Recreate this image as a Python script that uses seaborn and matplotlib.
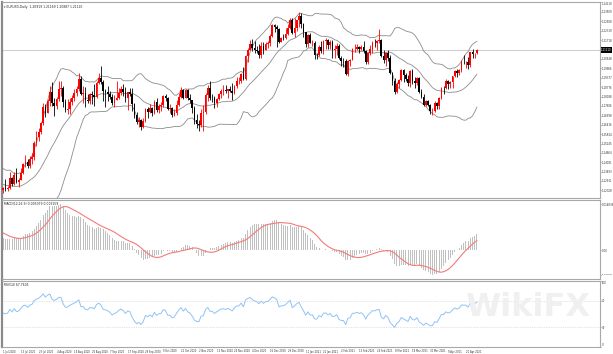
import numpy as np
import pandas as pd
import matplotlib
matplotlib.use('Agg')
import matplotlib.pyplot as plt
import matplotlib.transforms as mtransforms
import seaborn as sns

sns.set_style('white')
plt.rcParams['font.family'] = ['DejaVu Sans']

# EURUSD Daily, 1 Jul 2020 - 28 Apr 2021
# 5~6월 종가: 지표(볼린저, MACD, RSI) 계산용 워밍업, 차트에는 안 그림
warmup_close = [1.0980, 1.0908, 1.0840, 1.0795, 1.0830, 1.0839, 1.0806, 1.0850, 1.0817, 1.0803,
                1.0820, 1.0916, 1.0922, 1.0973, 1.0945, 1.0900, 1.0902, 1.0978, 1.1005, 1.1076,
                1.1100,
                1.1135, 1.1170, 1.1235, 1.1337, 1.1290, 1.1295, 1.1342, 1.1375, 1.1300, 1.1256,
                1.1330, 1.1262, 1.1245, 1.1205, 1.1177, 1.1260, 1.1308, 1.1250, 1.1219, 1.1220,
                1.1240, 1.1233]

opens = [
    # Jul
    1.1233, 1.1250, 1.1240, 1.1245, 1.1310, 1.1274, 1.1330, 1.1287, 1.1300, 1.1343, 1.1399, 1.1410,
    1.1383, 1.1427, 1.1443, 1.1529, 1.1568, 1.1596, 1.1656, 1.1753, 1.1717, 1.1791, 1.1846,
    # Aug
    1.1778, 1.1763, 1.1802, 1.1867, 1.1875, 1.1787, 1.1735, 1.1741, 1.1785, 1.1812, 1.1842, 1.1869,
    1.1930, 1.1835, 1.1840, 1.1795, 1.1792, 1.1834, 1.1832, 1.1819, 1.1903,
    # Sep
    1.1936, 1.1912, 1.1855, 1.1850, 1.1837, 1.1817, 1.1780, 1.1800, 1.1812, 1.1845, 1.1864, 1.1846,
    1.1813, 1.1847, 1.1838, 1.1770, 1.1704, 1.1658, 1.1671, 1.1631, 1.1664, 1.1742,
    # Oct
    1.1720, 1.1747, 1.1716, 1.1783, 1.1734, 1.1760, 1.1765, 1.1825, 1.1813, 1.1744, 1.1746, 1.1706,
    1.1718, 1.1768, 1.1820, 1.1860, 1.1812, 1.1860, 1.1812, 1.1795, 1.1746, 1.1673,
    # Nov
    1.1646, 1.1641, 1.1718, 1.1722, 1.1830, 1.1874, 1.1813, 1.1812, 1.1778, 1.1807, 1.1834, 1.1855,
    1.1861, 1.1853, 1.1869, 1.1856, 1.1841, 1.1888, 1.1914, 1.1917, 1.1963,
    # Dec
    1.1927, 1.2072, 1.2113, 1.2146, 1.2122, 1.2108, 1.2103, 1.2080, 1.2135, 1.2113, 1.2147, 1.2154,
    1.2197, 1.2266, 1.2256, 1.2242, 1.2164, 1.2187, 1.2186, 1.2213, 1.2249, 1.2297,
    # Jan
    1.2216, 1.2250, 1.2297, 1.2326, 1.2271, 1.2221, 1.2151, 1.2208, 1.2153, 1.2156, 1.2079, 1.2078,
    1.2130, 1.2105, 1.2165, 1.2171, 1.2140, 1.2161, 1.2112, 1.2118,
    # Feb
    1.2138, 1.2060, 1.2043, 1.2040, 1.1963, 1.2045, 1.2050, 1.2118, 1.2119, 1.2133, 1.2119, 1.2127,
    1.2104, 1.2039, 1.2092, 1.2119, 1.2155, 1.2152, 1.2167, 1.2175,
    # Mar
    1.2075, 1.2047, 1.2091, 1.2063, 1.1965, 1.1915, 1.1849, 1.1901, 1.1926, 1.1985, 1.1952, 1.1930,
    1.1903, 1.1978, 1.1915, 1.1904, 1.1938, 1.1851, 1.1814, 1.1765, 1.1794, 1.1765, 1.1728,
    # Apr
    1.1730, 1.1779, 1.1763, 1.1812, 1.1874, 1.1871, 1.1915, 1.1898, 1.1910, 1.1946, 1.1980, 1.1966,
    1.1983, 1.2036, 1.2034, 1.2035, 1.2015, 1.2096, 1.2083, 1.20919]

highs = [
    1.1255, 1.1303, 1.1262, 1.1346, 1.1318, 1.1345, 1.1371, 1.1310, 1.1375, 1.1404, 1.1452, 1.1426,
    1.1450, 1.1468, 1.1540, 1.1601, 1.1622, 1.1660, 1.1781, 1.1776, 1.1805, 1.1887, 1.1909,
    1.1810, 1.1814, 1.1916, 1.1916, 1.1883, 1.1806, 1.1807, 1.1808, 1.1830, 1.1865, 1.1883, 1.1966,
    1.1951, 1.1885, 1.1882, 1.1838, 1.1845, 1.1855, 1.1900, 1.1917, 1.1965,
    1.2011, 1.1922, 1.1869, 1.1883, 1.1853, 1.1836, 1.1831, 1.1917, 1.1873, 1.1888, 1.1900, 1.1882,
    1.1851, 1.1872, 1.1873, 1.1781, 1.1720, 1.1689, 1.1679, 1.1684, 1.1746, 1.1755,
    1.1771, 1.1755, 1.1795, 1.1808, 1.1772, 1.1788, 1.1831, 1.1834, 1.1820, 1.1772, 1.1755, 1.1739,
    1.1795, 1.1840, 1.1880, 1.1865, 1.1870, 1.1868, 1.1834, 1.1798, 1.1761, 1.1708,
    1.1671, 1.1743, 1.1769, 1.1839, 1.1891, 1.1920, 1.1837, 1.1826, 1.1813, 1.1839, 1.1868, 1.1890,
    1.1893, 1.1867, 1.1883, 1.1906, 1.1893, 1.1941, 1.1940, 1.1965, 1.2004,
    1.2077, 1.2124, 1.2176, 1.2177, 1.2167, 1.2136, 1.2147, 1.2163, 1.2162, 1.2163, 1.2167, 1.2212,
    1.2273, 1.2272, 1.2268, 1.2251, 1.2195, 1.2211, 1.2250, 1.2275, 1.2310, 1.2310,
    1.2310, 1.2300, 1.2349, 1.2340, 1.2281, 1.2222, 1.2210, 1.2218, 1.2175, 1.2165, 1.2090, 1.2145,
    1.2170, 1.2172, 1.2188, 1.2180, 1.2176, 1.2172, 1.2140, 1.2156,
    1.2146, 1.2076, 1.2061, 1.2052, 1.2050, 1.2056, 1.2125, 1.2147, 1.2150, 1.2139, 1.2144, 1.2169,
    1.2109, 1.2097, 1.2145, 1.2169, 1.2181, 1.2174, 1.2243, 1.2183,
    1.2114, 1.2099, 1.2112, 1.2077, 1.1975, 1.1935, 1.1913, 1.1929, 1.1990, 1.1990, 1.1965, 1.1952,
    1.1989, 1.1990, 1.1943, 1.1944, 1.1942, 1.1866, 1.1834, 1.1799, 1.1799, 1.1774, 1.1748,
    1.1791, 1.1786, 1.1820, 1.1880, 1.1887, 1.1927, 1.1925, 1.1917, 1.1949, 1.1989, 1.1992, 1.1994,
    1.2048, 1.2079, 1.2044, 1.2070, 1.2100, 1.2117, 1.2091, 1.21169]

lows = [
    1.1218, 1.1228, 1.1229, 1.1242, 1.1260, 1.1269, 1.1276, 1.1254, 1.1300, 1.1336, 1.1380, 1.1372,
    1.1375, 1.1396, 1.1420, 1.1508, 1.1542, 1.1583, 1.1639, 1.1690, 1.1715, 1.1761, 1.1761,
    1.1696, 1.1740, 1.1791, 1.1824, 1.1753, 1.1722, 1.1711, 1.1712, 1.1764, 1.1789, 1.1822, 1.1856,
    1.1828, 1.1778, 1.1753, 1.1780, 1.1776, 1.1772, 1.1762, 1.1811, 1.1898,
    1.1900, 1.1789, 1.1754, 1.1790, 1.1806, 1.1765, 1.1752, 1.1800, 1.1804, 1.1830, 1.1824, 1.1788,
    1.1737, 1.1823, 1.1730, 1.1685, 1.1646, 1.1627, 1.1612, 1.1625, 1.1658, 1.1685,
    1.1714, 1.1696, 1.1708, 1.1725, 1.1718, 1.1732, 1.1757, 1.1790, 1.1735, 1.1719, 1.1689, 1.1700,
    1.1702, 1.1760, 1.1811, 1.1804, 1.1808, 1.1797, 1.1780, 1.1717, 1.1650, 1.1622,
    1.1602, 1.1630, 1.1603, 1.1713, 1.1793, 1.1801, 1.1785, 1.1745, 1.1757, 1.1796, 1.1812, 1.1830,
    1.1844, 1.1813, 1.1848, 1.1801, 1.1833, 1.1876, 1.1897, 1.1904, 1.1923,
    1.1924, 1.2039, 1.2110, 1.2107, 1.2091, 1.2091, 1.2058, 1.2060, 1.2085, 1.2109, 1.2122, 1.2138,
    1.2190, 1.2224, 1.2130, 1.2153, 1.2163, 1.2173, 1.2178, 1.2204, 1.2240, 1.2210,
    1.2190, 1.2230, 1.2255, 1.2248, 1.2192, 1.2133, 1.2132, 1.2152, 1.2135, 1.2055, 1.2054, 1.2075,
    1.2090, 1.2085, 1.2115, 1.2120, 1.2115, 1.2058, 1.2060, 1.2080,
    1.2055, 1.2011, 1.2003, 1.1952, 1.1951, 1.2013, 1.2046, 1.2099, 1.2110, 1.2090, 1.2110, 1.2091,
    1.2023, 1.2022, 1.2082, 1.2092, 1.2128, 1.2110, 1.2156, 1.2065,
    1.2027, 1.2011, 1.2040, 1.1960, 1.1893, 1.1836, 1.1845, 1.1874, 1.1918, 1.1910, 1.1915, 1.1887,
    1.1882, 1.1897, 1.1874, 1.1894, 1.1843, 1.1809, 1.1760, 1.1762, 1.1761, 1.1712, 1.1704,
    1.1722, 1.1740, 1.1741, 1.1807, 1.1838, 1.1865, 1.1870, 1.1872, 1.1876, 1.1944, 1.1945, 1.1953,
    1.1974, 1.2023, 1.2001, 1.1995, 1.2003, 1.2063, 1.2059, 1.20887]

closes = [
    1.1250, 1.1240, 1.1245, 1.1310, 1.1274, 1.1330, 1.1287, 1.1300, 1.1343, 1.1399, 1.1410, 1.1383,
    1.1427, 1.1443, 1.1529, 1.1568, 1.1596, 1.1656, 1.1753, 1.1717, 1.1791, 1.1846, 1.1778,
    1.1763, 1.1802, 1.1867, 1.1875, 1.1787, 1.1735, 1.1741, 1.1785, 1.1812, 1.1842, 1.1869, 1.1930,
    1.1835, 1.1840, 1.1795, 1.1792, 1.1834, 1.1832, 1.1819, 1.1903, 1.1936,
    1.1912, 1.1855, 1.1850, 1.1837, 1.1817, 1.1780, 1.1800, 1.1812, 1.1845, 1.1864, 1.1846, 1.1813,
    1.1847, 1.1838, 1.1770, 1.1704, 1.1658, 1.1671, 1.1631, 1.1664, 1.1742, 1.1720,
    1.1747, 1.1716, 1.1783, 1.1734, 1.1760, 1.1765, 1.1825, 1.1813, 1.1744, 1.1746, 1.1706, 1.1718,
    1.1768, 1.1820, 1.1860, 1.1812, 1.1860, 1.1812, 1.1795, 1.1746, 1.1673, 1.1646,
    1.1641, 1.1718, 1.1722, 1.1830, 1.1874, 1.1813, 1.1812, 1.1778, 1.1807, 1.1834, 1.1855, 1.1861,
    1.1853, 1.1869, 1.1856, 1.1841, 1.1888, 1.1914, 1.1917, 1.1963, 1.1927,
    1.2072, 1.2113, 1.2146, 1.2122, 1.2108, 1.2103, 1.2080, 1.2135, 1.2113, 1.2147, 1.2154, 1.2197,
    1.2266, 1.2256, 1.2242, 1.2164, 1.2187, 1.2186, 1.2213, 1.2249, 1.2297, 1.2216,
    1.2250, 1.2297, 1.2326, 1.2271, 1.2221, 1.2151, 1.2208, 1.2153, 1.2156, 1.2079, 1.2078, 1.2130,
    1.2105, 1.2165, 1.2171, 1.2140, 1.2161, 1.2112, 1.2118, 1.2138,
    1.2060, 1.2043, 1.2040, 1.1963, 1.2045, 1.2050, 1.2118, 1.2119, 1.2133, 1.2119, 1.2127, 1.2104,
    1.2039, 1.2092, 1.2119, 1.2155, 1.2152, 1.2167, 1.2175, 1.2075,
    1.2047, 1.2091, 1.2063, 1.1965, 1.1915, 1.1849, 1.1901, 1.1926, 1.1985, 1.1952, 1.1930, 1.1903,
    1.1978, 1.1915, 1.1904, 1.1938, 1.1851, 1.1814, 1.1765, 1.1794, 1.1765, 1.1728, 1.1730,
    1.1779, 1.1763, 1.1812, 1.1874, 1.1871, 1.1915, 1.1898, 1.1910, 1.1946, 1.1980, 1.1966, 1.1983,
    1.2036, 1.2034, 1.2035, 1.2015, 1.2096, 1.2083, 1.2089, 1.21110]

# 가격축 눈금 (오른쪽)
price_ticks = [1.24110, 1.23509, 1.22908, 1.22319, 1.21718, 1.20548, 1.19966, 1.19377, 1.18776,
               1.18188, 1.17606, 1.16998, 1.16416, 1.15834, 1.15245, 1.14664, 1.14081, 1.13493,
               1.12911, 1.12328]
price_range = (1.11846, 1.24116)
rsi_levels = [70, 30]
rsi_ticks = [100, 70, 30, 0]

# 거래일 (크리스마스, 신정 제외)
dates = pd.bdate_range('2020-07-01', '2021-04-28')
dates = dates[~dates.isin(pd.to_datetime(['2020-12-25', '2021-01-01']))]

df = pd.DataFrame({'open': opens, 'high': highs, 'low': lows, 'close': closes}, index=dates)
n = len(df)
x = np.arange(n)
nw = len(warmup_close)

# 지표 계산
close_all = pd.Series(warmup_close + closes)
sma = close_all.rolling(20).mean()
sd = close_all.rolling(20).std(ddof=0)
bb_mid = sma.values[nw:]
bb_up = (sma + 2 * sd).values[nw:]
bb_lo = (sma - 2 * sd).values[nw:]

ema12 = close_all.ewm(span=12, adjust=False).mean()
ema26 = close_all.ewm(span=26, adjust=False).mean()
macd_all = ema12 - ema26
signal_all = macd_all.rolling(9).mean()
macd = macd_all.values[nw:]
signal = signal_all.values[nw:]

delta = close_all.diff()
gain = delta.clip(lower=0).ewm(alpha=1 / 14, adjust=False).mean()
loss = (-delta.clip(upper=0)).ewm(alpha=1 / 14, adjust=False).mean()
rsi = (100 - 100 / (1 + gain / loss)).values[nw:]

# 그림
fig = plt.figure(figsize=(6.13, 3.54), dpi=100)
W, H = 613, 354
left, width = 2 / W, 598 / W
ax = fig.add_axes([left, (H - 198) / H, width, 196 / H])
ax_macd = fig.add_axes([left, (H - 279) / H, width, 79 / H])
ax_rsi = fig.add_axes([left, (H - 347) / H, width, 66 / H])

xlim = (-0.5, 268.3)
tick_kw = dict(labelsize=1.9, length=1.0, width=0.4, pad=0.4, colors='#333333')

# 캔들
o = df['open'].values
c = df['close'].values
up = c >= o
col = np.where(up, '#ff0000', '#000000')
ax.vlines(x, df['low'].values, df['high'].values, colors=col, linewidth=0.6, zorder=3)
body = np.maximum(np.abs(c - o), 0.00008)
ax.bar(x, body, bottom=np.minimum(o, c), width=0.75, color=col, linewidth=0, zorder=4)

# 볼린저 밴드
for band in (bb_up, bb_mid, bb_lo):
    sns.lineplot(x=x, y=band, ax=ax, color='#8c8c8c', linewidth=0.6, legend=False)

last = closes[-1]
ax.axhline(last, color='#c4c4c4', linewidth=0.6, zorder=1)
ax.set_xlim(xlim)
ax.set_ylim(price_range)
ax.yaxis.tick_right()
ax.set_yticks(price_ticks)
ax.set_yticklabels([f'{v:.5f}' for v in price_ticks])
ax.tick_params(axis='y', **tick_kw)
ax.get_yticklabels()[0].set_va('top')
ax.set_xticks([])
trans = mtransforms.blended_transform_factory(ax.transAxes, ax.transData)
ax.text(1.002, last, f'{last:.5f}', transform=trans, fontsize=1.9, color='white',
        va='center', ha='left', bbox=dict(boxstyle='square,pad=0.2', fc='black', ec='none'))
ax.text(0.004, 0.985, '▾ EURUSD,Daily  1.20919 1.21169 1.20887 1.21110',
        transform=ax.transAxes, fontsize=2.2, va='top', ha='left', color='#222222')

# MACD
ax_macd.bar(x, macd, width=0.45, color='#c0c0c0', linewidth=0)
sns.lineplot(x=x, y=signal, ax=ax_macd, color='#f47a7a', linewidth=0.8, legend=False)
m_hi = max(macd.max(), signal.max())
m_lo = min(macd.min(), signal.min())
pad = (m_hi - m_lo) * 0.06
ax_macd.set_xlim(xlim)
ax_macd.set_ylim(m_lo - pad, m_hi + pad)
ax_macd.yaxis.tick_right()
ax_macd.set_yticks([m_hi, 0, m_lo])
ax_macd.set_yticklabels([f'{m_hi:.6f}', '0.00', f'{m_lo:.6f}'])
ax_macd.tick_params(axis='y', **tick_kw)
ax_macd.get_yticklabels()[-1].set_fontsize(1.6)
ax_macd.set_xticks([])
ax_macd.text(0.004, 0.975, f'MACD(12,26,9) {macd[-1]:.6f} {signal[-1]:.6f}',
             transform=ax_macd.transAxes, fontsize=2.2, va='top', ha='left', color='#222222')

# RSI
sns.lineplot(x=x, y=rsi, ax=ax_rsi, color='#8fc3f7', linewidth=0.7, legend=False)
for lv in rsi_levels:
    ax_rsi.axhline(lv, color='#c8c8c8', linewidth=0.5, linestyle=(0, (1, 1.5)))
ax_rsi.set_xlim(xlim)
ax_rsi.set_ylim(0, 100)
ax_rsi.yaxis.tick_right()
ax_rsi.set_yticks(rsi_ticks)
ax_rsi.set_yticklabels([str(t) for t in rsi_ticks])
ax_rsi.tick_params(axis='y', **tick_kw)
ax_rsi.get_yticklabels()[0].set_va('top')
ax_rsi.get_yticklabels()[-1].set_va('bottom')
ax_rsi.text(0.004, 0.97, f'RSI(14) {rsi[-1]:.4f}', transform=ax_rsi.transAxes,
            fontsize=2.2, va='top', ha='left', color='#222222')

# 날짜 눈금 (8봉 간격)
date_idx = list(range(0, n, 8))
date_labels = [f'{dates[i].day} {dates[i]:%b %Y}' for i in date_idx]
ax_rsi.set_xticks(date_idx)
ax_rsi.set_xticklabels(date_labels, ha='left')
ax_rsi.tick_params(axis='x', labelsize=1.8, length=1.2, width=0.4, pad=0.6, colors='#333333')

for a in (ax, ax_macd, ax_rsi):
    for s in a.spines.values():
        s.set_color('#a8a8a8')
        s.set_linewidth(0.8)
    a.spines['left'].set_color('#8a8a8a')
    a.spines['left'].set_linewidth(1.6)
    a.set_xlabel('')
    a.set_ylabel('')

# 워터마크
fig.text(0.86, 0.13, 'WikiFX', fontsize=23, fontweight='bold', color='#f0f0f0',
         ha='center', va='center', zorder=0.5)

fig.savefig('out.png', dpi=100)
